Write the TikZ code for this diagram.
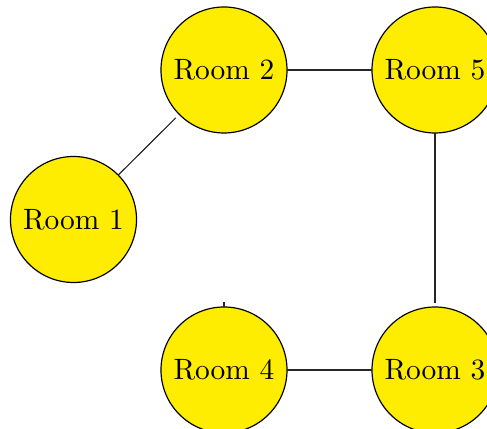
\documentclass[tikz,border=0pt]{standalone}
\begin{document}
\begin{tikzpicture}[x=0.34pt,y=-0.34pt,
  room/.style={circle,draw=black,fill=yellow!95!orange,minimum size=126*0.34pt,inner sep=0pt,outer sep=0pt,font=\normalsize},
  link/.style={draw=black!85,line width=0.4pt}]
  \useasboundingbox (0,0) rectangle (487,429);
  \node[room] (r2) at (224,70) {Room 2};
  \node[room] (r5) at (435,70) {Room 5};
  \node[room] (r1) at (73.5,219.5) {Room 1};
  \node[room] (r4) at (224,370) {Room 4};
  \node[room] (r3) at (435,370) {Room 3};
  \coordinate (r3top) at (435,303);
  \coordinate (r4tip) at (224,302.5);
  \draw[link] (r2) -- (r5);
  \draw[link,shorten <=1.7pt] (r2) -- (r1);
  \draw[link] (r5) -- (r3top);
  \draw[link] (r4) -- (r3);
  \draw[link] (r4.north) -- (r4tip);
\end{tikzpicture}
\end{document}
